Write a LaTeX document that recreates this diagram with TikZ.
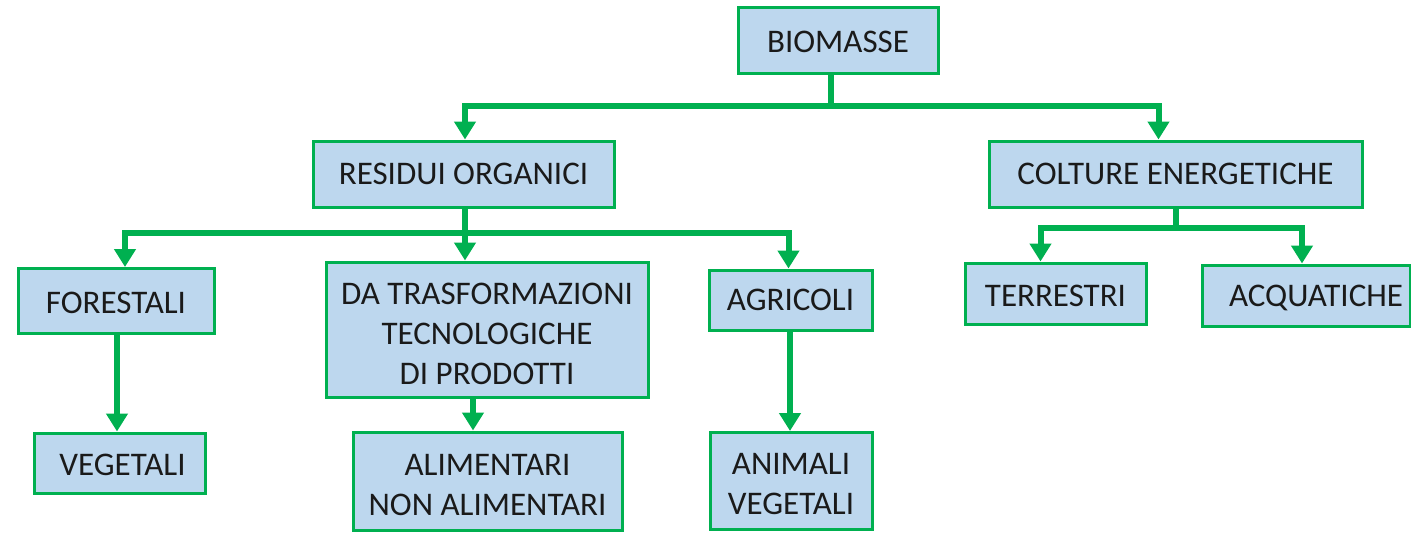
\documentclass[tikz,border=0pt]{standalone}
\usepackage{fontspec}
\setmainfont{Carlito}
\usetikzlibrary{arrows.meta}
\definecolor{gline}{HTML}{00B050}
\definecolor{bfill}{HTML}{BDD7EE}
\definecolor{txt}{HTML}{1A1A1A}
\newsavebox{\shiftbox}
\newcommand{\shiftdown}[2]{\sbox{\shiftbox}{#2}\raisebox{-#1}[\ht\shiftbox][\dp\shiftbox]{\usebox{\shiftbox}}}
\newcommand{\mlines}[2]{\shiftdown{#1}{\begin{tabular}{@{}c@{}}#2\end{tabular}}}
\tikzset{
  box/.style={draw=gline, fill=bfill, line width=3pt, inner sep=0pt, align=center,
    text=txt, font=\fontsize{33pt}{40pt}\selectfont},
  conn/.style={draw=gline, line width=6pt, line join=miter},
  arr/.style={conn, -{Triangle[width=21pt,length=18pt]}}
}
\begin{document}
\begin{tikzpicture}[x=1pt,y=-1pt]
\useasboundingbox (0,0) rectangle (1411,533);
\node[box, minimum width=200pt, minimum height=66pt] (bio) at (838,40) {\shiftdown{2pt}{BIOMASSE}};
\node[box, minimum width=301pt, minimum height=66pt] (res) at (463.5,174) {RESIDUI ORGANICI};
\node[box, minimum width=373pt, minimum height=66pt] (col) at (1175.5,174) {COLTURE ENERGETICHE};
\node[box, minimum width=196pt, minimum height=65pt] (for) at (116,301) {\shiftdown{2pt}{FORESTALI}};
\node[box, minimum width=171pt, minimum height=60pt] (veg) at (119.5,463) {\hspace*{6pt}\shiftdown{2pt}{VEGETALI}};
\node[box, minimum width=322pt, minimum height=135pt] (da) at (487,329.5) {\mlines{7pt}{DA TRASFORMAZIONI\\TECNOLOGICHE\\DI PRODOTTI}};
\node[box, minimum width=269pt, minimum height=98pt] (ali) at (487.5,481) {\mlines{6pt}{ALIMENTARI\\NON ALIMENTARI}};
\node[box, minimum width=163pt, minimum height=60pt] (agr) at (790.5,300) {AGRICOLI};
\node[box, minimum width=162pt, minimum height=97pt] (ani) at (791,481) {\mlines{5pt}{ANIMALI\\VEGETALI}};
\node[box, minimum width=181pt, minimum height=61pt] (ter) at (1055.5,293.5) {\shiftdown{2pt}{TERRESTRI}};
\node[box, minimum width=208pt, minimum height=61pt] (acq) at (1306,295.5) {\hspace*{20pt}\shiftdown{2pt}{ACQUATICHE}};

\coordinate (j1) at (831,106);
\coordinate (j2) at (465,233);
\coordinate (j3) at (1176,228);

\draw[conn] (bio.south -| j1) -- (j1);
\draw[arr] (j1) -| (res.north -| j2);
\draw[arr] (j1) -| ([xshift=-17pt]col.north);

\draw[conn] (res.south -| j2) -- (j2);
\draw[arr] (j2) -| ([xshift=9pt]for.north);
\draw[arr] (j2) -- (da.north -| j2);
\draw[arr] (j2) -| ([xshift=-2pt]agr.north);

\draw[conn] (col.south -| j3) -- (j3);
\draw[arr] (j3) -| ([xshift=-15pt]ter.north);
\draw[arr] (j3) -| ([xshift=-4pt]acq.north);

\draw[arr] (for.south -| 117,0) -- (veg.north -| 117,0);
\draw[arr] (da.south -| 473,0) -- (ali.north -| 473,0);
\draw[arr] (agr.south -| 790,0) -- (ani.north -| 790,0);
\end{tikzpicture}
\end{document}
